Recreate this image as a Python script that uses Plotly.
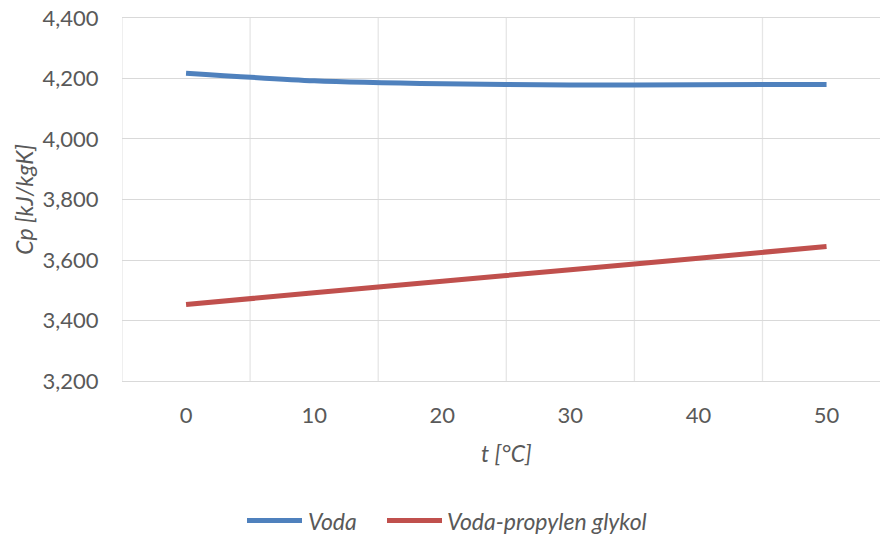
import plotly.graph_objects as go

temps = [0, 10, 20, 30, 40, 50]
voda = [4217, 4192, 4182, 4178, 4179, 4180]
voda_pg = [3453, 3492, 3530, 3568, 3606, 3645]
series_names = ["Voda", "Voda-propylen glykol"]
series_colors = ["#4F81BD", "#C0504D"]
y_ticks = [3200, 3400, 3600, 3800, 4000, 4200, 4400]
x_ticks = [0, 10, 20, 30, 40, 50]
x_grid = [-5, 5, 15, 25, 35, 45]

FONT = "Lato"
TXT = "#595959"

W, H = 880, 535
YPAD = 6  # data units of padding above/below so end gridlines are drawn
UPP = (381.5 - 17.8) / 1200  # px per data unit
PL, PR = 122, 880
PT, PB = 17.8 - YPAD * UPP, 381.5 + YPAD * UPP
pw, ph = PR - PL, PB - PT


def px(x):
    return (x - PL) / pw


def py(y):
    return (PB - y) / ph


fig = go.Figure()
for name, vals, col in zip(series_names, [voda, voda_pg], series_colors):
    fig.add_trace(go.Scatter(x=temps, y=vals, name=name, mode="lines", showlegend=False,
                             line=dict(color=col, width=5, shape="spline", smoothing=0.6)))

# vertical gridlines between categories
for gx in x_grid:
    fig.add_shape(type="line", xref="x", yref="y", x0=gx, x1=gx, y0=3200, y1=4400,
                  line=dict(color="#E6E6E6", width=1.3), layer="below")

# custom legend (line samples 55px long)
legend_items = [(247, 302, 306), (387, 442, 445)]
annotations = []
for (x0, x1, tx), name, col in zip(legend_items, series_names, series_colors):
    fig.add_shape(type="line", xref="paper", yref="paper", x0=px(x0), x1=px(x1),
                  y0=py(521), y1=py(521), line=dict(color=col, width=5))
    annotations.append(dict(text=name, xref="paper", yref="paper", x=px(tx), y=py(521),
                            xanchor="left", yanchor="middle", showarrow=False,
                            font=dict(family=FONT, size=23, color=TXT, style="italic")))

annotations += [
    dict(text="t [°C]", xref="paper", yref="paper", x=px(506), y=py(453),
         xanchor="center", yanchor="middle", showarrow=False,
         font=dict(family=FONT, size=23, color=TXT, style="italic")),
    dict(text="Cp [kJ/kgK]", xref="paper", yref="paper", x=px(24), y=py(200),
         xanchor="center", yanchor="middle", showarrow=False, textangle=-90,
         font=dict(family=FONT, size=23, color=TXT, style="italic")),
]

fig.update_layout(
    width=W, height=H,
    margin=dict(l=PL, r=W - PR, t=PT, b=H - PB, autoexpand=False),
    paper_bgcolor="white", plot_bgcolor="white",
    font=dict(family=FONT, color=TXT, size=22),
    showlegend=False,
    xaxis=dict(range=[-5, -5 + pw / 12.81], tickvals=x_ticks, ticktext=[str(v) for v in x_ticks],
               showgrid=False, zeroline=False, showline=False, automargin=False,
               ticks="outside", ticklen=13, tickcolor="rgba(0,0,0,0)",
               ticklabeloverflow="allow",
               tickfont=dict(family=FONT, size=22, color=TXT)),
    yaxis=dict(range=[3200 - YPAD, 4400 + YPAD], tickvals=y_ticks, tickformat=",",
               showgrid=True, gridcolor="#D9D9D9", gridwidth=1.3,
               zeroline=False, showline=False, automargin=False,
               ticks="outside", ticklen=18, tickcolor="rgba(0,0,0,0)",
               ticklabeloverflow="allow",
               tickfont=dict(family=FONT, size=22, color=TXT)),
    annotations=annotations,
)

fig.write_html("out.html", config={"displayModeBar": False},
               post_script="document.body.style.margin='0';document.body.style.overflow='hidden';")
